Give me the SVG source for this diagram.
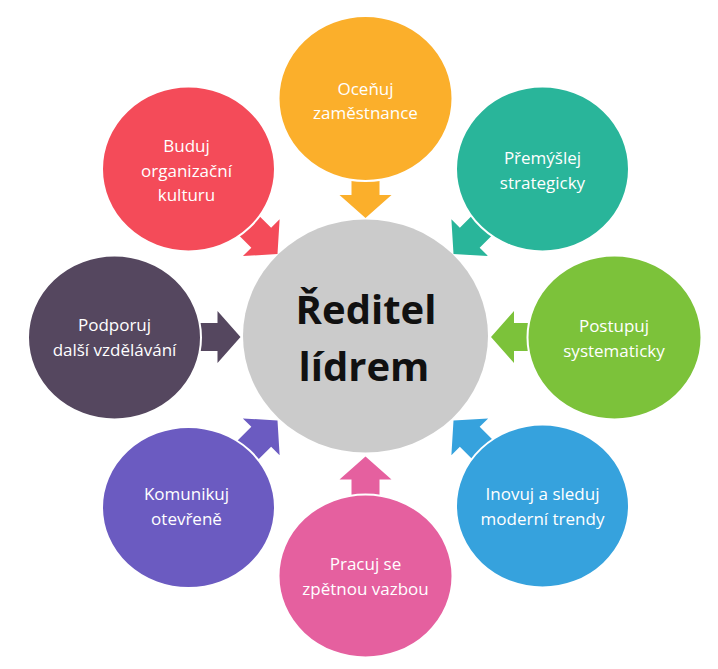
<svg xmlns="http://www.w3.org/2000/svg" width="718" height="669" viewBox="0 0 718 669">
<defs>
<path id="arr" d="M0,0 L-23,-26 L-23,-14 L-52,-14 L-52,14 L-23,14 L-23,26 Z"/>
</defs>
<style>
.lbl{font-family:"Open Sans","Noto Sans","Liberation Sans",sans-serif;font-size:17px;fill:#fff;text-anchor:middle}
.ctr{font-family:"Open Sans","Noto Sans","Liberation Sans",sans-serif;font-size:40px;font-weight:700;fill:#111;text-anchor:middle}
.out{stroke:#fff;stroke-width:2}
</style>
<rect width="718" height="669" fill="#fff"/>
<g id="connectors">
<use href="#arr" transform="translate(365.5,218) rotate(90)" fill="#fbaf2b"/>
<use href="#arr" transform="translate(453.5,254) rotate(135)" fill="#29b59a"/>
<use href="#arr" transform="translate(491,337) rotate(180)" fill="#7cc23a"/>
<use href="#arr" transform="translate(453.5,420.5) rotate(225)" fill="#36a2dd"/>
<use href="#arr" transform="translate(365.5,456.5) rotate(270)" fill="#e5609f"/>
<use href="#arr" transform="translate(277.5,420.5) rotate(315)" fill="#6b5bc1"/>
<use href="#arr" transform="translate(240.5,337) rotate(0)" fill="#55475f"/>
<use href="#arr" transform="translate(277.5,254) rotate(45)" fill="#f44b59"/>
</g>
<g id="center">
<ellipse cx="365.5" cy="336" rx="122.5" ry="116.5" fill="#cbcbcb"/>
<text class="ctr" x="366" y="324">Ředitel</text>
<text class="ctr" x="364" y="381">lídrem</text>
</g>
<g id="n-oceňuj">
<ellipse class="out" cx="365.5" cy="98.5" rx="87" ry="82.5" fill="#fbaf2b"/>
<text class="lbl" x="365.5" y="95">Oceňuj</text>
<text class="lbl" x="365.5" y="119">zaměstnance</text>
</g>
<g id="n-premyslej">
<ellipse class="out" cx="542.5" cy="169" rx="86.5" ry="82.5" fill="#29b59a"/>
<text class="lbl" x="542.5" y="164">Přemýšlej</text>
<text class="lbl" x="542.5" y="188.5">strategicky</text>
</g>
<g id="n-postupuj">
<ellipse class="out" cx="614.5" cy="337.5" rx="87" ry="82" fill="#7cc23a"/>
<text class="lbl" x="614" y="331.5">Postupuj</text>
<text class="lbl" x="614" y="356.5">systematicky</text>
</g>
<g id="n-inovuj">
<ellipse class="out" cx="542.5" cy="506" rx="86.5" ry="81.5" fill="#36a2dd"/>
<text class="lbl" x="542.5" y="500">Inovuj a sleduj</text>
<text class="lbl" x="542.5" y="524.5">moderní trendy</text>
</g>
<g id="n-pracuj">
<ellipse class="out" cx="365.5" cy="576" rx="87" ry="81.5" fill="#e5609f"/>
<text class="lbl" x="365.5" y="570">Pracuj se</text>
<text class="lbl" x="365.5" y="594.5">zpětnou vazbou</text>
</g>
<g id="n-komunikuj">
<ellipse class="out" cx="188.5" cy="507.5" rx="86.5" ry="80.5" fill="#6b5bc1"/>
<text class="lbl" x="186.5" y="500">Komunikuj</text>
<text class="lbl" x="186.5" y="524.5">otevřeně</text>
</g>
<g id="n-podporuj">
<ellipse class="out" cx="114.5" cy="337.5" rx="86.5" ry="82" fill="#55475f"/>
<text class="lbl" x="114.5" y="330.5">Podporuj</text>
<text class="lbl" x="114.5" y="355.5">další vzdělávání</text>
</g>
<g id="n-buduj">
<ellipse class="out" cx="188.5" cy="169" rx="86.5" ry="82.5" fill="#f44b59"/>
<text class="lbl" x="186.5" y="152">Buduj</text>
<text class="lbl" x="186.5" y="176.5">organizační</text>
<text class="lbl" x="186.5" y="201">kulturu</text>
</g>
</svg>
